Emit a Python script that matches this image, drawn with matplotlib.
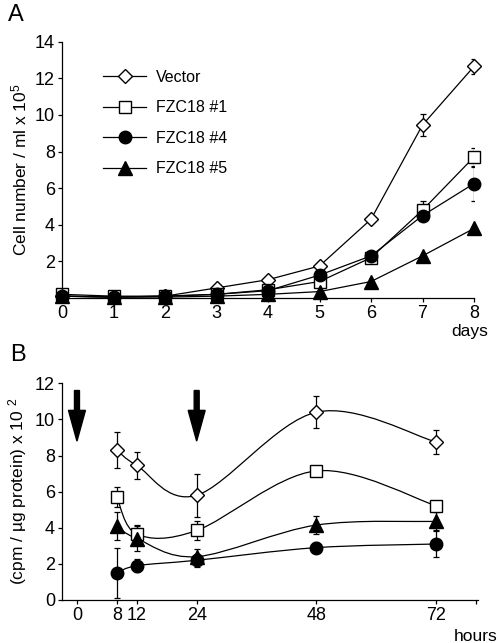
import numpy as np
import matplotlib
matplotlib.use("agg")
import matplotlib.pyplot as plt
from matplotlib.path import Path
from matplotlib.patches import PathPatch

plt.rcParams['font.family'] = ['Liberation Sans', 'DejaVu Sans']
plt.rcParams['mathtext.fontset'] = 'custom'
plt.rcParams['mathtext.rm'] = 'Liberation Sans'
plt.rcParams['mathtext.default'] = 'regular'

# panel A: cell growth (cells / ml x 10^5)
days = [0, 1, 2, 3, 4, 5, 6, 7, 8]
growth_vector = [0.1, 0.05, 0.1, 0.55, 1.0, 1.75, 4.3, 9.45, 12.65]
growth_vector_err = [0, 0, 0, 0, 0, 0, 0, 0.58, 0.4]
growth_fzc1 = [0.2, 0.1, 0.1, 0.2, 0.45, 0.9, 2.2, 4.8, 7.7]
growth_fzc1_err = [0, 0, 0, 0, 0, 0, 0, 0.5, 0.5]
growth_fzc4 = [0.1, 0.05, 0.1, 0.2, 0.4, 1.25, 2.3, 4.5, 6.25]
growth_fzc4_err = [0, 0, 0, 0, 0, 0, 0, 0, 0.93]
growth_fzc5 = [0.1, 0.05, 0.05, 0.1, 0.2, 0.35, 0.9, 2.3, 3.8]
growth_fzc5_err = [0, 0, 0, 0, 0, 0, 0, 0, 0]

# panel B: cpm / ug protein x 10^2
hours = [8, 12, 24, 48, 72]
cpm_vector = [8.3, 7.45, 5.8, 10.4, 8.75]
cpm_vector_err = [1.0, 0.75, 1.2, 0.9, 0.65]
cpm_fzc1 = [5.7, 3.65, 3.85, 7.15, 5.22]
cpm_fzc1_err = [0.55, 0.5, 0.5, 0.0, 0.0]
cpm_fzc4 = [1.5, 1.9, 2.2, 2.9, 3.1]
cpm_fzc4_err = [1.4, 0.35, 0.35, 0.3, 0.7]
cpm_fzc5 = [4.1, 3.4, 2.4, 4.15, 4.35]
cpm_fzc5_err = [0.8, 0.7, 0.4, 0.5, 0.5]
treatment_hours = [0, 24]

labels = ['Vector', 'FZC18 #1', 'FZC18 #4', 'FZC18 #5']
styles = [dict(marker='D', mfc='white', ms=7.5),
          dict(marker='s', mfc='white', ms=9),
          dict(marker='o', mfc='black', ms=9),
          dict(marker='^', mfc='black', ms=9.5)]


def smooth_path(x, y):
    # Excel-style smoothed line through the points (cubic bezier)
    pts = np.column_stack([x, y]).astype(float)
    n = len(pts)
    verts = [pts[0]]
    codes = [Path.MOVETO]
    for i in range(n - 1):
        p0 = pts[i - 1] if i > 0 else pts[i]
        p1 = pts[i]
        p2 = pts[i + 1]
        p3 = pts[i + 2] if i + 2 < n else pts[i + 1]
        verts += [p1 + (p2 - p0) / 6., p2 - (p3 - p1) / 6., p2]
        codes += [Path.CURVE4] * 3
    return Path(verts, codes)


fig = plt.figure(figsize=(4.98, 6.43), dpi=100)
axA = fig.add_axes([62 / 498., 1 - 298. / 643, 412 / 498., 256.3 / 643])
axB = fig.add_axes([62 / 498., 1 - 600. / 643, 416 / 498., 216.7 / 643])

tick_fs = 13
for ax in (axA, axB):
    ax.spines['top'].set_visible(False)
    ax.spines['right'].set_visible(False)
    ax.spines['left'].set_linewidth(0.9)
    ax.spines['bottom'].set_linewidth(0.9)
    ax.tick_params(direction='out', length=3, width=0.9, labelsize=tick_fs, pad=2)

# ---- panel A
seriesA = [(growth_vector, growth_vector_err), (growth_fzc1, growth_fzc1_err),
           (growth_fzc4, growth_fzc4_err), (growth_fzc5, growth_fzc5_err)]
handles = []
for (vals, err), st, lab in zip(seriesA, styles, labels):
    yerr = np.array(err)
    ax = axA
    ax.errorbar(days, vals, yerr=np.where(yerr > 0, yerr, np.nan), fmt='none',
                ecolor='black', elinewidth=0.9, capsize=2.5, capthick=0.9, zorder=2)
    h, = ax.plot(days, vals, color='black', lw=0.9, mec='black', mew=1.0,
                 clip_on=False, zorder=3, label=lab, **st)
    handles.append(h)
axA.set_xlim(0, 8)
axA.set_ylim(0, 14)
axA.set_xticks(days)
axA.set_yticks([2, 4, 6, 8, 10, 12, 14])
axA.set_ylabel('Cell number / ml x 10$^{5}$', fontsize=12.5, labelpad=4)
axA.text(7.92, -1.85, 'days', ha='center', va='center', fontsize=12.5)
axA.legend(handles=handles, loc='upper left', bbox_to_anchor=(0.1, 0.89),
           frameon=False, fontsize=11.5, handlelength=2.7, handletextpad=0.6,
           labelspacing=0.97, borderpad=0, borderaxespad=0)
fig.text(8 / 498., 1 - 15 / 643., 'A', fontsize=17, ha='left', va='center')

# ---- panel B
seriesB = [(cpm_vector, cpm_vector_err), (cpm_fzc1, cpm_fzc1_err),
           (cpm_fzc4, cpm_fzc4_err), (cpm_fzc5, cpm_fzc5_err)]
for (vals, err), st in zip(seriesB, styles):
    yerr = np.array(err)
    axB.add_patch(PathPatch(smooth_path(hours, vals), fill=False, edgecolor='black',
                            lw=0.9, zorder=2))
    axB.errorbar(hours, vals, yerr=np.where(yerr > 0, yerr, np.nan), fmt='none',
                 ecolor='black', elinewidth=0.9, capsize=2.5, capthick=0.9, zorder=2)
    axB.plot(hours, vals, ls='none', mec='black', mew=1.0, zorder=3, **st)
for t in treatment_hours:
    axB.arrow(t, 11.6, 0, -2.8, width=1.0, head_width=3.4, head_length=1.7,
              length_includes_head=True, color='black', zorder=4)
axB.set_xlim(-3, 80.4)
axB.set_ylim(0, 12)
axB.set_xticks([0, 8, 12, 24, 48, 72, 80])
axB.set_xticklabels(['0', '8', '12', '24', '48', '72', ''])
axB.set_yticks([0, 2, 4, 6, 8, 10, 12])
axB.set_ylabel('(cpm / µg protein) x 10 $^{2}$', fontsize=12.5, labelpad=4)
axB.text(80, -2.0, 'hours', ha='center', va='center', fontsize=12.5)
fig.text(10 / 498., 1 - 355 / 643., 'B', fontsize=17, ha='left', va='center')

fig.savefig('out.png', dpi=100)
